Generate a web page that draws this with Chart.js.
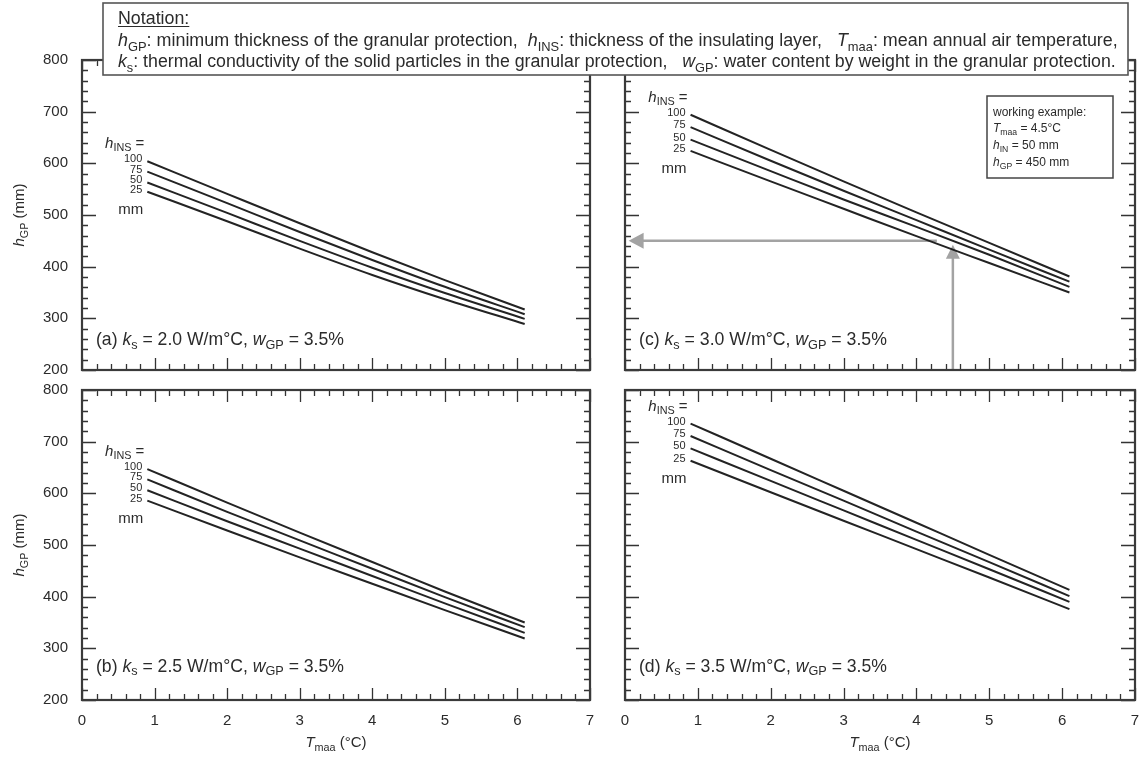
<!DOCTYPE html>
<html><head><meta charset="utf-8">
<script src="https://cdn.jsdelivr.net/npm/chart.js@4.4.1/dist/chart.umd.min.js"></script>
<style>
html,body{margin:0;padding:0;background:#fff;width:1144px;height:759px;overflow:hidden}
canvas{position:absolute;left:0;top:0}
</style></head><body>
<canvas id="pa" width="1144" height="759"></canvas>
<canvas id="pb" width="1144" height="759"></canvas>
<canvas id="pc" width="1144" height="759"></canvas>
<canvas id="pd" width="1144" height="759"></canvas>
<script>
// ---------- data ----------
const tmaa = [0.9, 2, 3, 4, 5, 6.1];           // mean annual air temperature (°C)
const hinsLevels = ['100', '75', '50', '25'];   // insulating layer thickness (mm)
const xTicks = [0, 1, 2, 3, 4, 5, 6, 7];
const yTicks = [200, 300, 400, 500, 600, 700, 800];

const a100 = [604, 541, 484, 428, 374, 317];
const a75  = [584, 523, 467, 413, 361, 308];
const a50  = [563, 504, 450, 398, 349, 299];
const a25  = [545, 488, 435, 384, 337, 289];

const b100 = [647, 582, 524, 467, 410, 350];
const b75  = [627, 564, 509, 454, 399, 341];
const b50  = [606, 546, 493, 440, 387, 330];
const b25  = [586, 528, 476, 425, 374, 319];

const c100 = [694, 626, 565, 505, 446, 381];
const c75  = [670, 605, 547, 490, 433, 371];
const c50  = [646, 585, 530, 477, 423, 361];
const c25  = [624, 565, 512, 459, 407, 350];

const d100 = [735, 667, 605, 543, 481, 413];
const d75  = [711, 645, 586, 526, 467, 401];
const d50  = [687, 624, 567, 510, 453, 390];
const d25  = [663, 602, 547, 492, 437, 376];

const panelTags = ['(a)', '(b)', '(c)', '(d)'];
const ksValues = ['2.0', '2.5', '3.0', '3.5'];
const wgpValue = '3.5%';

const exampleT = 4.5, exampleHins = 50, exampleHgp = 450;

// ---------- helpers ----------
const FONT = '"Liberation Sans", Arial, Helvetica, sans-serif';
const INK = '#2b2b2b';
function fontFor(st, size) {
  const it = st.includes('i') ? 'italic ' : '';
  const fs = st.includes('s') ? size * 0.72 : size;
  return it + fs.toFixed(2) + 'px ' + FONT;
}
function richWidth(ctx, segs, size) {
  let w = 0;
  for (const [t, st] of segs) { ctx.font = fontFor(st, size); w += ctx.measureText(t).width; }
  return w;
}
function drawRich(ctx, x, y, segs, size) {
  for (const [t, st] of segs) {
    ctx.font = fontFor(st, size);
    const dy = st.includes('s') ? size * 0.28 : 0;
    ctx.fillText(t, x, y + dy);
    x += ctx.measureText(t).width;
  }
  return x;
}
function fitSize(ctx, segs, base, target) { return base * target / richWidth(ctx, segs, base); }

const hINS = [['h', 'i'], ['INS', 's']];

// ---------- plugins ----------
const framePlugin = {
  id: 'frame',
  afterDatasetsDraw(chart) {
    const { ctx, chartArea: a, scales: { x, y } } = chart;
    ctx.save();
    ctx.strokeStyle = '#333';
    ctx.lineWidth = 1.3;
    ctx.beginPath();
    for (let i = 0; i <= 35; i++) {
      const v = i * 0.2;
      const px = Math.round(x.getPixelForValue(v)) + 0.5;
      const len = (i % 5 === 0) ? 12 : 6;
      ctx.moveTo(px, a.bottom); ctx.lineTo(px, a.bottom - len);
      ctx.moveTo(px, a.top); ctx.lineTo(px, a.top + len);
    }
    for (let i = 0; i <= 30; i++) {
      const v = 200 + i * 20;
      const py = Math.round(y.getPixelForValue(v)) + 0.5;
      const len = (i % 5 === 0) ? 14 : 6;
      ctx.moveTo(a.left, py); ctx.lineTo(a.left + len, py);
      ctx.moveTo(a.right, py); ctx.lineTo(a.right - len, py);
    }
    ctx.stroke();
    ctx.lineWidth = 2.2;
    ctx.strokeStyle = '#3a3a3a';
    ctx.strokeRect(a.left, a.top, a.right - a.left, a.bottom - a.top);

    // curve labels
    const o = chart.options.plugins.panel;
    ctx.fillStyle = INK;
    ctx.textBaseline = 'middle';
    const starts = chart.data.datasets.map((d, i) => chart.getDatasetMeta(i).data[0]);
    ctx.textAlign = 'right';
    ctx.font = '11px ' + FONT;
    starts.forEach((p, i) => ctx.fillText(hinsLevels[i], p.x - 5, p.y - 2));
    ctx.font = '15px ' + FONT;
    ctx.fillText('mm', starts[3].x - 4, starts[3].y + 18);
    ctx.textAlign = 'left';
    const hsegs = hINS.concat([[' =', 'n']]);
    const hw = richWidth(ctx, hsegs, 15);
    drawRich(ctx, starts[0].x - 3 - hw, starts[0].y - 17, hsegs, 15);

    // panel annotation
    const segs = [[o.tag + ' ', 'n'], ['k', 'i'], ['s', 's'], [' = ' + o.ks + ' W/m°C, ', 'n'], ['w', 'i'], ['GP', 's'], [' = ' + wgpValue, 'n']];
    const fs = fitSize(ctx, segs, 16, 248);
    drawRich(ctx, a.left + 14, y.getPixelForValue(o.annoY), segs, fs);

    // axis titles
    ctx.textBaseline = 'alphabetic';
    if (o.yTitle) {
      const ts = [['h', 'i'], ['GP', 's'], [' (mm)', 'n']];
      const w = richWidth(ctx, ts, 15);
      ctx.save();
      ctx.translate(24, (a.top + a.bottom) / 2);
      ctx.rotate(-Math.PI / 2);
      drawRich(ctx, -w / 2, 0, ts, 15);
      ctx.restore();
    }
    if (o.xTitle) {
      const ts = [['T', 'i'], ['maa', 's'], [' (°C)', 'n']];
      const w = richWidth(ctx, ts, 15);
      drawRich(ctx, (a.left + a.right) / 2 - w / 2, 747, ts, 15);
    }
    ctx.restore();
  }
};

const examplePlugin = {
  id: 'example',
  beforeDatasetsDraw(chart) {
    const o = chart.options.plugins.panel;
    if (!o.example) return;
    const { ctx, chartArea: a, scales: { x, y } } = chart;
    const ex = x.getPixelForValue(exampleT);
    const ey = y.getPixelForValue(exampleHgp);
    ctx.save();
    ctx.strokeStyle = '#a3a3a3';
    ctx.fillStyle = '#a3a3a3';
    ctx.lineWidth = 2.5;
    // vertical arrow
    const tipV = ey + 4;
    ctx.beginPath(); ctx.moveTo(ex, a.bottom); ctx.lineTo(ex, tipV + 12); ctx.stroke();
    ctx.beginPath(); ctx.moveTo(ex, tipV); ctx.lineTo(ex - 7, tipV + 14); ctx.lineTo(ex + 7, tipV + 14); ctx.closePath(); ctx.fill();
    // horizontal arrow
    const tipH = x.getPixelForValue(0.05);
    ctx.beginPath(); ctx.moveTo(ex - 16, ey); ctx.lineTo(tipH + 12, ey); ctx.stroke();
    ctx.beginPath(); ctx.moveTo(tipH, ey); ctx.lineTo(tipH + 15, ey - 8); ctx.lineTo(tipH + 15, ey + 8); ctx.closePath(); ctx.fill();
    ctx.restore();
  },
  afterDatasetsDraw(chart) {
    const o = chart.options.plugins.panel;
    if (!o.example) return;
    const { ctx } = chart;
    ctx.save();
    ctx.fillStyle = '#fff';
    ctx.strokeStyle = '#444';
    ctx.lineWidth = 1.5;
    ctx.fillRect(987, 96, 126, 82);
    ctx.strokeRect(987, 96, 126, 82);
    ctx.fillStyle = INK;
    ctx.textBaseline = 'alphabetic';
    ctx.font = '12px ' + FONT;
    ctx.fillText('working example:', 993, 116);
    drawRich(ctx, 993, 132, [['T', 'i'], ['maa', 's'], [' = ' + exampleT + '°C', 'n']], 12);
    drawRich(ctx, 993, 149, [['h', 'i'], ['IN', 's'], [' = ' + exampleHins + ' mm', 'n']], 12);
    drawRich(ctx, 993, 166, [['h', 'i'], ['GP', 's'], [' = ' + exampleHgp + ' mm', 'n']], 12);
    ctx.restore();
  }
};

const notationPlugin = {
  id: 'notation',
  afterDraw(chart) {
    const o = chart.options.plugins.panel;
    if (!o.notation) return;
    const { ctx } = chart;
    ctx.save();
    ctx.fillStyle = '#fff';
    ctx.strokeStyle = '#555';
    ctx.lineWidth = 1.6;
    ctx.fillRect(103, 3, 1025, 72);
    ctx.strokeRect(103, 3, 1025, 72);
    ctx.fillStyle = INK;
    ctx.textBaseline = 'alphabetic';
    const l2 = [['h', 'i'], ['GP', 's'], [': minimum thickness of the granular protection,  ', 'n'], ['h', 'i'], ['INS', 's'], [': thickness of the insulating layer,   ', 'n'], ['T', 'i'], ['maa', 's'], [': mean annual air temperature,', 'n']];
    const l3 = [['k', 'i'], ['s', 's'], [': thermal conductivity of the solid particles in the granular protection,   ', 'n'], ['w', 'i'], ['GP', 's'], [': water content by weight in the granular protection.', 'n']];
    const s2 = fitSize(ctx, l2, 16, 1000);
    const s3 = fitSize(ctx, l3, 16, 998);
    const s1 = (s2 + s3) / 2;
    ctx.font = s1.toFixed(2) + 'px ' + FONT;
    ctx.fillText('Notation:', 118, 24);
    const nw = ctx.measureText('Notation:').width;
    ctx.strokeStyle = INK; ctx.lineWidth = 1;
    ctx.beginPath(); ctx.moveTo(118, 26.5); ctx.lineTo(118 + nw, 26.5); ctx.stroke();
    drawRich(ctx, 118, 46, l2, s2);
    drawRich(ctx, 118, 67, l3, s3);
    ctx.restore();
  }
};

// ---------- panels ----------
function makePanel(id, series, box, opts) {
  return new Chart(document.getElementById(id), {
    type: 'line',
    data: {
      datasets: series.map((s, i) => ({
        label: hinsLevels[i] + ' mm',
        data: tmaa.map((t, j) => ({ x: t, y: s[j] })),
        borderColor: '#232323',
        borderWidth: 2,
        pointRadius: 0,
        fill: false,
        cubicInterpolationMode: 'monotone'
      }))
    },
    options: {
      responsive: false,
      animation: false,
      devicePixelRatio: 1,
      events: [],
      layout: { autoPadding: false, padding: { left: 0, top: box.top, right: 1144 - box.right, bottom: 0 } },
      plugins: {
        legend: { display: false },
        tooltip: { enabled: false },
        panel: opts
      },
      scales: {
        x: {
          type: 'linear', min: xTicks[0], max: xTicks[xTicks.length - 1],
          afterBuildTicks: s => { s.ticks = xTicks.map(v => ({ value: v })); },
          ticks: { display: opts.xLabels, color: INK, font: { family: FONT, size: 15 }, padding: 12, maxRotation: 0 },
          grid: { display: false, drawTicks: false },
          border: { display: false },
          afterFit: s => { s.height = 759 - box.bottom; s.paddingLeft = 0; s.paddingRight = 0; }
        },
        y: {
          type: 'linear', min: yTicks[0], max: yTicks[yTicks.length - 1],
          afterBuildTicks: s => { s.ticks = yTicks.map(v => ({ value: v })); },
          ticks: { display: opts.yLabels, color: INK, font: { family: FONT, size: 15 }, padding: 14 },
          grid: { display: false, drawTicks: false },
          border: { display: false },
          afterFit: s => { s.width = box.left; s.paddingTop = 0; s.paddingBottom = 0; }
        }
      }
    },
    plugins: [examplePlugin, framePlugin, notationPlugin]
  });
}

makePanel('pa', [a100, a75, a50, a25], { left: 82, right: 590, top: 60, bottom: 370 },
  { tag: panelTags[0], ks: ksValues[0], annoY: 257, yLabels: true, xLabels: false, yTitle: true, xTitle: false });
makePanel('pb', [b100, b75, b50, b25], { left: 82, right: 590, top: 390, bottom: 700 },
  { tag: panelTags[1], ks: ksValues[1], annoY: 264, yLabels: true, xLabels: true, yTitle: true, xTitle: true });
makePanel('pc', [c100, c75, c50, c25], { left: 625, right: 1135, top: 60, bottom: 370 },
  { tag: panelTags[2], ks: ksValues[2], annoY: 257, yLabels: false, xLabels: false, yTitle: false, xTitle: false, example: true });
makePanel('pd', [d100, d75, d50, d25], { left: 625, right: 1135, top: 390, bottom: 700 },
  { tag: panelTags[3], ks: ksValues[3], annoY: 264, yLabels: false, xLabels: true, yTitle: false, xTitle: true, notation: true });
</script>
</body></html>
